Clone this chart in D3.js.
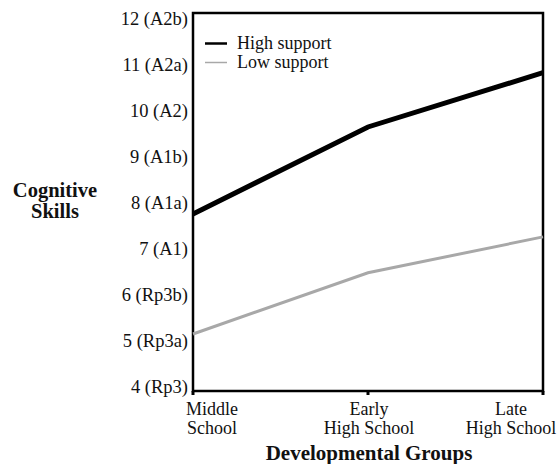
<!DOCTYPE html>
<html>
<head>
<meta charset="utf-8">
<script src="https://cdn.jsdelivr.net/npm/d3@7"></script>
<style>
  body { margin: 0; background: #fff; }
  svg { display: block; font-family: "Liberation Serif", "Times New Roman", serif; }
</style>
</head>
<body>
<div id="chart"></div>
<script>
// data
const groups = ["Middle School", "Early High School", "Late High School"];
const groupLines = [["Middle", "School"], ["Early", "High School"], ["Late", "High School"]];
const highSupport = [7.85, 9.74, 10.92];
const lowSupport = [5.24, 6.57, 7.35];
const yTicks = [4, 5, 6, 7, 8, 9, 10, 11, 12];
const yTickLabels = ["4 (Rp3)", "5 (Rp3a)", "6 (Rp3b)", "7 (A1)", "8 (A1a)", "9 (A1b)", "10 (A2)", "11 (A2a)", "12 (A2b)"];
const seriesNames = ["High support", "Low support"];

const width = 560, height = 464;
const plotLeft = 193, plotRight = 543, plotTop = 13, plotBottom = 391;

const svg = d3.select("#chart").append("svg")
  .attr("width", width)
  .attr("height", height);

const x = d3.scalePoint().domain(groups).range([plotLeft, plotRight]).padding(0);
const y = d3.scaleLinear().domain([4, 12]).range([plotBottom, 23]);

// box
svg.append("rect")
  .attr("x", plotLeft).attr("y", plotTop)
  .attr("width", plotRight - plotLeft).attr("height", plotBottom - plotTop)
  .attr("fill", "none").attr("stroke", "#000").attr("stroke-width", 2.5);

// y tick labels
svg.selectAll("text.ytick")
  .data(yTicks)
  .enter()
  .append("text")
  .attr("class", "ytick")
  .attr("x", plotLeft - 5)
  .attr("y", (d) => y(d) - 2)
  .attr("text-anchor", "end")
  .attr("dominant-baseline", "middle")
  .attr("font-size", "18.5px")
  .attr("fill", "#111")
  .text((d, i) => yTickLabels[i]);

// x tick marks
svg.selectAll("line.xtick")
  .data(groups)
  .enter()
  .append("line")
  .attr("class", "xtick")
  .attr("x1", (d) => x(d)).attr("x2", (d) => x(d))
  .attr("y1", plotBottom).attr("y2", plotBottom + 4)
  .attr("stroke", "#000").attr("stroke-width", 3);

// x tick labels (first shifted right, last shifted left like the original)
const xLabelShift = [19, 1, -32];
groups.forEach((g, i) => {
  const t = svg.append("text")
    .attr("x", x(g) + xLabelShift[i])
    .attr("y", plotBottom + 24)
    .attr("text-anchor", "middle")
    .attr("font-size", "18px")
    .attr("fill", "#111");
  groupLines[i].forEach((line, j) => {
    t.append("tspan")
      .attr("x", x(g) + xLabelShift[i])
      .attr("dy", j === 0 ? 0 : 19)
      .text(line);
  });
});

// lines
const line = d3.line()
  .x((d, i) => x(groups[i]))
  .y((d) => y(d));

svg.append("path")
  .datum(lowSupport)
  .attr("d", line)
  .attr("fill", "none")
  .attr("stroke", "#a8a8a8")
  .attr("stroke-width", 3);

svg.append("path")
  .datum(highSupport)
  .attr("d", line)
  .attr("fill", "none")
  .attr("stroke", "#000")
  .attr("stroke-width", 5);

// legend
const legendColors = ["#000", "#a8a8a8"];
const legendWidths = [2.5, 1.5];
seriesNames.forEach((name, i) => {
  const ly = 43.5 + i * 19;
  svg.append("line")
    .attr("x1", 205).attr("x2", 227)
    .attr("y1", ly).attr("y2", ly)
    .attr("stroke", legendColors[i])
    .attr("stroke-width", legendWidths[i]);
  svg.append("text")
    .attr("x", 237)
    .attr("y", ly + 5)
    .attr("font-size", "18px")
    .attr("fill", "#111")
    .text(name);
});

// axis titles
const yTitle = svg.append("text")
  .attr("x", 55).attr("y", 197)
  .attr("text-anchor", "middle")
  .attr("font-size", "20.5px")
  .attr("font-weight", "bold")
  .attr("fill", "#111");
yTitle.append("tspan").attr("x", 55).attr("dy", 0).text("Cognitive");
yTitle.append("tspan").attr("x", 55).attr("dy", 21).text("Skills");

svg.append("text")
  .attr("x", 369).attr("y", 460)
  .attr("text-anchor", "middle")
  .attr("font-size", "21px")
  .attr("font-weight", "bold")
  .attr("fill", "#111")
  .text("Developmental Groups");
</script>
</body>
</html>
